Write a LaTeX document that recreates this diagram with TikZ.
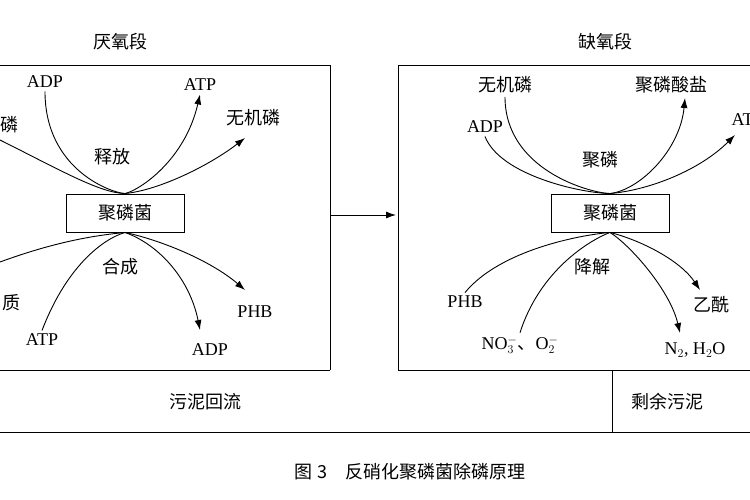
\documentclass[tikz,border=0pt]{standalone}
\usepackage{fontspec}
\setmainfont{Liberation Serif}
\newfontfamily\cjk{Noto Sans CJK SC}
\usetikzlibrary{arrows.meta}
\begin{document}
\begin{tikzpicture}[x=1pt,y=-1pt,
  lab/.style={font=\fontsize{18}{18}\selectfont},
  zh/.style={font=\cjk\fontsize{18}{18}\selectfont},
  arr/.style={-{Latex[length=10pt,width=7pt]}},
  ln/.style={line width=0.9pt}]
\useasboundingbox (0,0) rectangle (750,500);
\fill[white] (0,0) rectangle (750,500);
% boxes
\draw[ln] (-2,65) -- (330,65) -- (330,370);
\draw[ln] (760,65) -- (398,65) -- (398,370) -- (760,370);
\draw[ln] (-2,370) -- (330,370);
\draw[ln] (-2,432) -- (760,432);
\draw[ln] (612,370) -- (612,432);
\coordinate (la) at (330,215); \coordinate (ra) at (396,215);
\draw[ln,arr] (la) -- (ra);
\node[zh] (t1) at (120,42) {厌氧段};
\node[zh] (t2) at (605,42) {缺氧段};
\node[zh] (s1) at (205,402) {污泥回流};
\node[zh,anchor=west] (s2) at (628,402) {剩余污泥};
\node[zh] (cap) at (410,472) {图 3\quad 反硝化聚磷菌除磷原理};
% left
\node[zh,draw,ln,minimum width=118pt,minimum height=38pt] (L) at (125,213) {聚磷菌};
\node[lab] (a1) at (45,82) {ADP};
\node[lab] (a2) at (200,85) {ATP};
\node[zh] (a3) at (253,118) {无机磷};
\node[zh] (a4) at (112,157) {释放};
\node[zh,anchor=east] (a5) at (22,125) {磷};
\node[zh] (a6) at (120,267) {合成};
\node[lab] (a7) at (255,312) {PHB};
\node[zh,anchor=east] (a8) at (24,303) {质};
\node[lab] (a9) at (42,340) {ATP};
\node[lab] (a10) at (210,350) {ADP};
\coordinate (l0) at (0,140); \coordinate (l9) at (0,262);
\draw[ln,arr] (a1.south) .. controls (45,170) and (112,193) .. (L.north) .. controls (140,190) and (185,160) .. (a2.south);
\draw[ln,arr] (l0) .. controls (60,170) and (100,193) .. (L.north) .. controls (160,190) and (210,165) .. (245,138);
\draw[ln,arr] (l9) .. controls (60,240) and (100,235) .. (L.south) .. controls (160,240) and (210,260) .. (245,290);
\draw[ln,arr] (a9.north) .. controls (65,270) and (100,240) .. (L.south) .. controls (160,245) and (190,280) .. (200,330);
% right
\node[zh,draw,ln,minimum width=118pt,minimum height=38pt] (R) at (610,213) {聚磷菌};
\node[zh] (b1) at (505,85) {无机磷};
\node[zh,anchor=west] (b2) at (632,85) {聚磷酸盐};
\node[lab] (b3) at (485,127) {ADP};
\node[lab,anchor=west] (b4) at (728,120) {ATP};
\node[zh] (b5) at (600,160) {聚磷};
\node[zh] (b6) at (592,267) {降解};
\node[lab] (b7) at (465,302) {PHB};
\node[zh,anchor=west] (b8) at (690,305) {乙酰};
\node[lab] (b9) at (520,345) {NO$_3^-${\cjk 、}O$_2^-$};
\node[lab] (b10) at (695,350) {N$_2$, H$_2$O};
\draw[ln,arr] (b1.south) .. controls (505,170) and (590,193) .. (R.north) .. controls (640,190) and (680,150) .. (685,98);
\draw[ln,arr] (b3.south) .. controls (500,175) and (580,193) .. (R.north) .. controls (650,190) and (700,170) .. (735,135);
\draw[ln,arr] (b7.north) .. controls (500,250) and (580,235) .. (R.south) .. controls (640,240) and (680,260) .. (700,290);
\draw[ln,arr] (b9.north) .. controls (540,270) and (590,240) .. (R.south) .. controls (630,245) and (670,290) .. (680,333);
\end{tikzpicture}
\end{document}
